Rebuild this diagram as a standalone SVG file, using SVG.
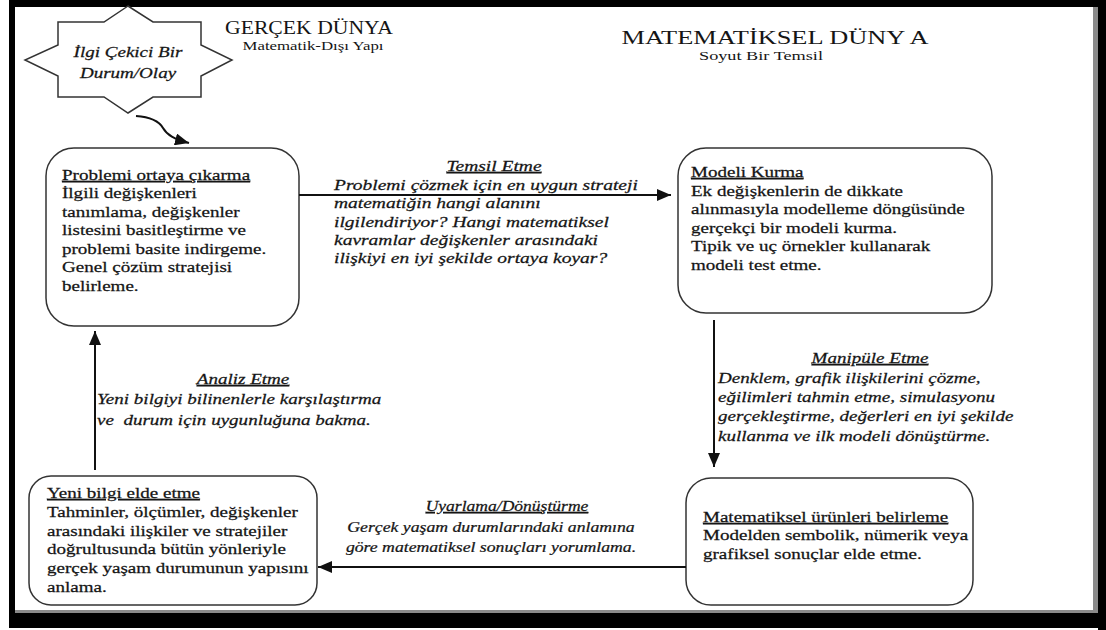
<svg xmlns="http://www.w3.org/2000/svg" width="1106" height="630" viewBox="0 0 1106 630">
  <style>
    .t { font-family: "Liberation Serif", "Times New Roman", serif; font-size: 15px; fill: #151515; stroke: #151515; stroke-width: 0.25; }
    .i { font-style: italic; }
    .u { text-decoration: underline; }
    .c { text-anchor: middle; }
    .box { fill: #ffffff; stroke: #333333; stroke-width: 1.5; }
    .link { fill: none; stroke: #111111; stroke-width: 2; }
    .ttl { font-family: "Liberation Serif", "Times New Roman", serif; fill: #151515; text-anchor: middle; }
  </style>
  <defs>
    <marker id="head" viewBox="0 0 14 12" refX="14" refY="6" markerWidth="14" markerHeight="12" markerUnits="userSpaceOnUse" orient="auto">
      <path d="M0,0 L14,6 L0,12 Z" fill="#111111"/>
    </marker>
  </defs>

  <!-- page and frame -->
  <rect x="0" y="0" width="1106" height="630" fill="#ffffff"/>
  <rect x="1093" y="7" width="5" height="606" fill="#8a8a8a"/>
  <rect x="15" y="610" width="1083" height="3" fill="#8a8a8a"/>
  <rect x="9" y="0" width="1097" height="7" fill="#000000"/>
  <rect x="9" y="0" width="6" height="628" fill="#000000"/>
  <rect x="1098" y="0" width="8" height="630" fill="#000000"/>
  <rect x="9" y="613" width="1097" height="15" fill="#000000"/>

  <!-- headings of the two worlds -->
  <g id="real-world-title">
    <text class="ttl" x="309" y="34" font-size="19" textLength="168" lengthAdjust="spacingAndGlyphs">GERÇEK DÜNYA</text>
    <text class="ttl" x="313" y="50" font-size="13" textLength="141" lengthAdjust="spacingAndGlyphs">Matematik-Dışı Yapı</text>
  </g>
  <g id="math-world-title">
    <text class="ttl" x="775" y="44" font-size="19" textLength="307" lengthAdjust="spacingAndGlyphs">MATEMATİKSEL DÜNY A</text>
    <text class="ttl" x="761" y="60" font-size="13" textLength="124" lengthAdjust="spacingAndGlyphs">Soyut Bir Temsil</text>
  </g>

  <!-- starting situation -->
  <g id="start">
    <path class="box" d="M128,6 L104,22 L58,22 L58,45 L25,60 L58,76 L58,97 L104,97 L128,113 L153,97 L201,97 L201,76 L232,60 L201,45 L201,22 L153,22 Z"/>
    <g transform="translate(128,0) scale(1.27,1)">
      <text class="t i c" x="0" y="57">İlgi Çekici Bir</text>
      <text class="t i c" x="0" y="78">Durum/Olay</text>
    </g>
  </g>

  <!-- cycle steps -->
  <g id="problem">
    <rect class="box" x="46" y="148" width="253" height="178" rx="28" ry="28"/>
    <g transform="translate(62,0) scale(1.27,1)">
      <text class="t u" x="0" y="180">Problemi ortaya çıkarma</text>
      <text class="t" x="0" y="198.5">İlgili değişkenleri</text>
      <text class="t" x="0" y="217">tanımlama, değişkenler</text>
      <text class="t" x="0" y="235.5">listesini basitleştirme ve</text>
      <text class="t" x="0" y="254">problemi basite indirgeme.</text>
      <text class="t" x="0" y="272.5">Genel çözüm stratejisi</text>
      <text class="t" x="0" y="291">belirleme.</text>
    </g>
  </g>

  <g id="model">
    <rect class="box" x="678" y="148" width="314" height="165" rx="28" ry="28"/>
    <g transform="translate(691,0) scale(1.27,1)">
      <text class="t u" x="0" y="177">Modeli Kurma</text>
      <text class="t" x="0" y="196">Ek değişkenlerin de dikkate</text>
      <text class="t" x="0" y="214">alınmasıyla modelleme döngüsünde</text>
      <text class="t" x="0" y="233">gerçekçi bir modeli kurma.</text>
      <text class="t" x="0" y="251">Tipik ve uç örnekler kullanarak</text>
      <text class="t" x="0" y="270">modeli test etme.</text>
    </g>
  </g>

  <g id="products">
    <rect class="box" x="686" y="478" width="287" height="127" rx="25" ry="25"/>
    <g transform="translate(703,0) scale(1.27,1)">
      <text class="t u" x="0" y="522">Matematiksel ürünleri belirleme</text>
      <text class="t" x="0" y="540">Modelden sembolik, nümerik veya</text>
      <text class="t" x="0" y="559">grafiksel sonuçlar elde etme.</text>
    </g>
  </g>

  <g id="new-knowledge">
    <rect class="box" x="29" y="476" width="288" height="129" rx="22" ry="22"/>
    <g transform="translate(47,0) scale(1.27,1)">
      <text class="t u" x="0" y="498">Yeni bilgi elde etme</text>
      <text class="t" x="0" y="517">Tahminler, ölçümler, değişkenler</text>
      <text class="t" x="0" y="536">arasındaki ilişkiler ve stratejiler</text>
      <text class="t" x="0" y="554">doğrultusunda bütün yönleriyle</text>
      <text class="t" x="0" y="573">gerçek yaşam durumunun yapısını</text>
      <text class="t" x="0" y="592">anlama.</text>
    </g>
  </g>

  <!-- connectors -->
  <g id="connectors">
    <path class="link" d="M136,116 C150,117 159,121 163,128 C167,135 174,139 189,143" marker-end="url(#head)"/>
    <path class="link" d="M299,195 L671,195" marker-end="url(#head)"/>
    <path class="link" d="M714,320 L714,467" marker-end="url(#head)"/>
    <path class="link" d="M686,567 L318,567" marker-end="url(#head)"/>
    <path class="link" d="M95,470 L95,331" marker-end="url(#head)"/>
  </g>

  <!-- connector labels -->
  <g id="label-represent">
    <g transform="translate(494,0) scale(1.3,1)">
      <text class="t i u c" x="0" y="171">Temsil Etme</text>
    </g>
    <g transform="translate(334,0) scale(1.3,1)">
      <text class="t i" x="0" y="190">Problemi çözmek için en uygun strateji</text>
      <text class="t i" x="0" y="208.3">matematiğin hangi alanını</text>
      <text class="t i" x="0" y="226.6">ilgilendiriyor? Hangi matematiksel</text>
      <text class="t i" x="0" y="245">kavramlar değişkenler arasındaki</text>
      <text class="t i" x="0" y="263.3">ilişkiyi en iyi şekilde ortaya koyar?</text>
    </g>
  </g>

  <g id="label-manipulate">
    <g transform="translate(870,0) scale(1.27,1)">
      <text class="t i u c" x="0" y="363">Manipüle Etme</text>
    </g>
    <g transform="translate(718,0) scale(1.27,1)">
      <text class="t i" x="0" y="383">Denklem, grafik ilişkilerini çözme,</text>
      <text class="t i" x="0" y="402">eğilimleri tahmin etme, simulasyonu</text>
      <text class="t i" x="0" y="421">gerçekleştirme, değerleri en iyi şekilde</text>
      <text class="t i" x="0" y="441">kullanma ve ilk modeli dönüştürme.</text>
    </g>
  </g>

  <g id="label-interpret">
    <g transform="translate(507,0) scale(1.17,1)">
      <text class="t i u c" x="0" y="511">Uyarlama/Dönüştürme</text>
    </g>
    <g transform="translate(491,0) scale(1.18,1)">
      <text class="t i c" x="0" y="532">Gerçek yaşam durumlarındaki anlamına</text>
      <text class="t i c" x="0" y="552">göre matematiksel sonuçları yorumlama.</text>
    </g>
  </g>

  <g id="label-analyse">
    <g transform="translate(243,0) scale(1.27,1)">
      <text class="t i u c" x="0" y="384">Analiz Etme</text>
    </g>
    <g transform="translate(97,0) scale(1.27,1)">
      <text class="t i" x="0" y="404">Yeni bilgiyi bilinenlerle karşılaştırma</text>
      <text class="t i" x="0" y="425" xml:space="preserve">ve  durum için uygunluğuna bakma.</text>
    </g>
  </g>
</svg>
